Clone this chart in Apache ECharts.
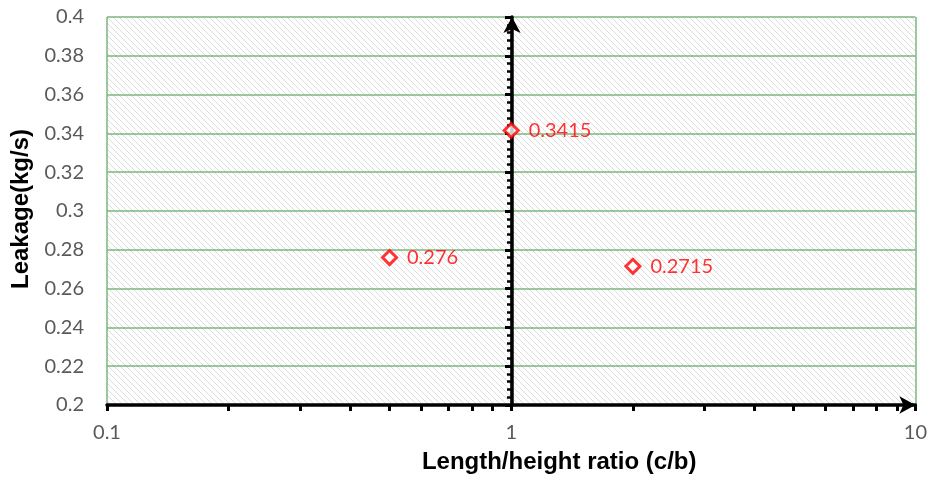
<!DOCTYPE html>
<html>
<head>
<meta charset="utf-8">
<script src="https://cdn.jsdelivr.net/npm/echarts@6/dist/echarts.min.js"></script>
<style>
html, body { margin: 0; padding: 0; background: #fff; }
#chart { width: 930px; height: 487px; }
</style>
</head>
<body>
<div id="chart"></div>
<script>
// data
var ratios = [0.5, 1, 2];
var leakage = [0.276, 0.3415, 0.2715];
var xMin = 0.1, xMax = 10;
var yMin = 0.2, yMax = 0.4, yStep = 0.02;
var minorMultipliers = [2, 3, 4, 5, 6, 7, 8, 9];

var gridGreen = "#7db67d";
var labelGrey = "#595959";

// little tile for the hatched plot background
function hatchTile() {
  var c = document.createElement("canvas");
  c.width = 6;
  c.height = 6;
  var ctx = c.getContext("2d");
  ctx.fillStyle = "#fff";
  ctx.fillRect(0, 0, 6, 6);
  ctx.fillStyle = "#dcdcdc";
  for (var i = 0; i < 6; i++) {
    ctx.fillRect(i, i, 1, 1);
  }
  return c;
}

// minor ticks of the log axis (2..9 in each decade), in log10 space
var minorTicks = [];
for (var d = Math.log10(xMin); d < Math.log10(xMax); d++) {
  for (var m = 0; m < minorMultipliers.length; m++) {
    minorTicks.push(d + Math.log10(minorMultipliers[m]));
  }
}

var chart = echarts.init(document.getElementById("chart"));

var option = {
  animation: false,
  grid: {
    left: 107,
    right: 13,
    top: 17,
    bottom: 82,
    show: true,
    borderWidth: 0,
    backgroundColor: { image: hatchTile(), repeat: "repeat" },
  },
  xAxis: [
    {
      type: "log",
      logBase: 10,
      min: xMin,
      max: xMax,
      position: "bottom",
      name: "Length/height ratio (c/b)",
      nameLocation: "middle",
      nameGap: 45,
      nameTextStyle: {
        fontFamily: "Liberation Sans",
        fontWeight: "bold",
        fontSize: 24,
        color: "#000",
        padding: [0, 0, 0, 96],
      },
      axisLine: {
        show: true,
        symbol: ["none", "arrow"],
        symbolSize: [13, 16],
        lineStyle: { color: "#000", width: 3.5 },
      },
      axisTick: { show: true, length: 6, lineStyle: { color: "#000", width: 3 } },
      axisLabel: {
        margin: 18,
        fontFamily: "Lato",
        fontSize: 20,
        color: labelGrey,
      },
      splitLine: { show: true, lineStyle: { color: gridGreen, width: 1.5 } },
      z: 5,
    },
    {
      // only draws the minor ticks of the log axis
      type: "value",
      min: Math.log10(xMin),
      max: Math.log10(xMax),
      position: "bottom",
      axisLine: { show: false },
      axisTick: {
        show: true,
        customValues: minorTicks,
        length: 6,
        lineStyle: { color: "#000", width: 3 },
      },
      axisLabel: { show: false },
      splitLine: { show: false },
      z: 5,
    },
  ],
  yAxis: [
    {
      type: "value",
      min: yMin,
      max: yMax,
      interval: yStep,
      position: "left",
      name: "Leakage(kg/s)",
      nameLocation: "middle",
      nameGap: 70,
      nameTextStyle: {
        fontFamily: "Liberation Sans",
        fontWeight: "bold",
        fontSize: 24,
        color: "#000",
        padding: [0, 0, 0, 4],
      },
      axisLine: { show: false },
      axisTick: { show: false },
      axisLabel: {
        margin: 23,
        fontFamily: "Lato",
        fontSize: 20,
        color: labelGrey,
      },
      splitLine: { show: true, lineStyle: { color: gridGreen, width: 1.5 } },
    },
    {
      // vertical axis drawn through x = 1
      type: "value",
      min: yMin,
      max: yMax,
      interval: yStep,
      position: "left",
      offset: -405,
      axisLine: {
        show: true,
        symbol: ["none", "arrow"],
        symbolSize: [13, 16],
        lineStyle: { color: "#000", width: 3.5 },
      },
      axisTick: { show: true, length: 7, lineStyle: { color: "#000", width: 3 } },
      minorTick: {
        show: true,
        splitNumber: 5,
        length: 5,
        lineStyle: { color: "#000", width: 2.5 },
      },
      axisLabel: { show: false },
      splitLine: { show: false },
      z: 5,
    },
  ],
  series: [
    {
      type: "scatter",
      xAxisIndex: 0,
      yAxisIndex: 0,
      data: ratios.map(function (r, i) {
        return [r, leakage[i]];
      }),
      symbol: "diamond",
      symbolSize: [14, 14],
      itemStyle: { color: "#fff", borderColor: "#ff0000", borderWidth: 3 },
      label: {
        show: true,
        position: "right",
        distance: 9,
        fontFamily: "Lato",
        fontSize: 20,
        color: "#ff0000",
        formatter: function (p) {
          return p.value[1];
        },
      },
      z: 10,
    },
  ],
};

chart.setOption(option);
</script>
</body>
</html>
